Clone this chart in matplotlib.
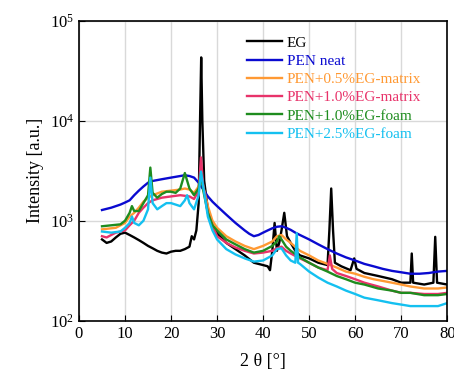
import numpy as np
import matplotlib
matplotlib.use('Agg')
import matplotlib.pyplot as plt

plt.rcParams['font.family'] = ['Liberation Serif', 'DejaVu Serif']
plt.rcParams['mathtext.fontset'] = 'stix'

# values (2theta in degrees, intensity in a.u.)
eg_x = [5, 6, 7, 8, 9, 10, 11, 12, 13, 14, 15, 16, 17, 18, 19, 20, 21, 22, 23, 24, 24.5, 25, 25.5,
        26, 26.3, 26.55, 26.8, 27.2, 28, 29, 30, 32, 34, 36, 38, 40, 41, 41.5, 42, 42.5, 43, 43.5,
        44, 44.6, 45.2, 46, 47, 48, 50, 52, 54, 54.4, 54.8, 55.2, 55.6, 57, 59, 59.8, 60.3, 62, 65,
        68, 70, 72, 72.3, 72.6, 75, 77, 77.4, 77.8, 80]
eg_y = [650, 600, 620, 680, 740, 760, 720, 680, 640, 600, 560, 530, 500, 480, 470, 490, 500, 500,
        520, 550, 700, 650, 800, 1500, 10000, 43000, 10000, 2500, 1300, 900, 750, 600, 520, 450,
        380, 360, 350, 320, 500, 950, 500, 600, 800, 1200, 700, 600, 500, 450, 420, 380, 360, 800,
        2100, 800, 380, 350, 320, 420, 330, 300, 280, 260, 240, 240, 470, 240, 230, 240, 690, 240, 230]

pen_x = [5, 7, 9, 10, 11, 12, 13, 14, 15, 16, 18, 20, 22, 23, 24, 25, 26, 27, 28, 29, 30, 32, 34,
         36, 37, 38, 39, 40, 41, 42, 43, 44, 45, 46, 47, 48, 50, 52, 54, 56, 58, 60, 62, 64, 66,
         68, 70, 72, 74, 76, 78, 80]
pen_y = [1280, 1350, 1450, 1520, 1600, 1800, 2000, 2200, 2400, 2500, 2600, 2700, 2800, 2850, 2800,
         2700, 2400, 2050, 1750, 1550, 1400, 1150, 950, 800, 740, 700, 720, 760, 800, 840, 870, 880,
         850, 810, 760, 720, 650, 580, 520, 470, 430, 400, 370, 350, 330, 315, 305, 295, 295, 300,
         310, 315]

m05_x = [5, 8, 10, 11, 12, 13, 14, 15, 16, 18, 20, 22, 23, 24, 25, 26, 26.5, 27, 28, 29, 30, 32,
         34, 36, 38, 40, 42, 43, 44, 45, 46, 48, 50, 52, 54, 56, 58, 60, 62, 64, 66, 68, 70, 72,
         75, 78, 80]
m05_y = [820, 850, 950, 1100, 1200, 1350, 1550, 1700, 1800, 1950, 2000, 2050, 2100, 2050, 1900,
         2200, 3000, 2200, 1400, 1000, 850, 700, 620, 560, 520, 560, 620, 700, 720, 650, 600, 500,
         450, 400, 370, 340, 310, 295, 275, 260, 250, 240, 230, 220, 210, 210, 215]

m10_x = [5, 6, 7, 8, 10, 11, 12, 13, 14, 15, 16, 18, 20, 22, 24, 25, 26, 26.5, 27, 28, 29, 30, 32,
         34, 36, 38, 40, 42, 43, 44, 45, 46, 48, 50, 52, 54, 54.5, 55, 56, 58, 60, 62, 65, 68, 70,
         72, 75, 78, 80]
m10_y = [700, 680, 720, 760, 800, 900, 1000, 1200, 1350, 1500, 1600, 1700, 1750, 1800, 1750, 1650,
         2000, 4300, 2200, 1200, 900, 700, 600, 540, 500, 470, 480, 500, 530, 550, 500, 470, 420,
         380, 340, 320, 450, 330, 300, 280, 260, 240, 220, 200, 190, 190, 185, 185, 190]

f10_x = [5, 7, 9, 10, 11, 11.5, 12, 13, 14, 15, 15.5, 16, 17, 18, 19, 20, 21, 22, 23, 24, 25, 26,
         26.5, 27, 28, 29, 30, 32, 34, 36, 38, 40, 42, 43, 43.5, 44, 45, 46, 48, 50, 52, 54, 56,
         58, 60, 62, 65, 68, 70, 72, 75, 78, 80]
f10_y = [880, 900, 920, 1000, 1200, 1400, 1250, 1250, 1500, 1800, 3400, 1900, 1700, 1850, 1950,
         1950, 1900, 2100, 3000, 2100, 1800, 2100, 3000, 2000, 1200, 900, 800, 650, 580, 520, 480,
         500, 560, 620, 700, 650, 550, 500, 430, 380, 340, 310, 280, 260, 240, 230, 210, 200, 190,
         190, 180, 180, 185]

f25_x = [5, 7, 9, 10, 11, 11.5, 12, 13, 14, 15, 15.5, 16, 17, 18, 19, 20, 21, 22, 23, 23.5, 24,
         25, 26, 26.5, 27, 28, 29, 30, 32, 34, 36, 38, 40, 42, 43, 44, 45, 46, 47, 47.3, 47.6, 48,
         50, 52, 54, 56, 58, 60, 62, 65, 68, 70, 72, 75, 78, 80]
f25_y = [780, 760, 780, 850, 950, 1100, 950, 900, 1000, 1300, 2700, 1500, 1300, 1400, 1500, 1500,
         1450, 1400, 1600, 1800, 1500, 1300, 1800, 3100, 2200, 1100, 800, 650, 520, 460, 420, 390,
         400, 450, 520, 530, 450, 400, 380, 750, 380, 370, 310, 270, 240, 220, 200, 185, 170, 160,
         150, 145, 140, 140, 140, 150]

series = [
    (eg_x, eg_y, 'EG', 'black'),
    (pen_x, pen_y, 'PEN neat', '#0a0ad0'),
    (m05_x, m05_y, 'PEN+0.5%EG-matrix', '#ff9933'),
    (m10_x, m10_y, 'PEN+1.0%EG-matrix', '#e8336a'),
    (f10_x, f10_y, 'PEN+1.0%EG-foam', '#1e8c1e'),
    (f25_x, f25_y, 'PEN+2.5%EG-foam', '#14c0f0'),
]

fig = plt.figure(figsize=(4.54, 3.74), dpi=100)
ax = fig.add_axes([0.174, 0.1425, 0.811, 0.802])

for x, y, lab, c in series:
    ax.plot(x, y, color=c, lw=1.7, label=lab)

ax.set_yscale('log')
ax.set_xlim(0, 80)
ax.set_ylim(1e2, 1e5)
ax.set_xticks(np.arange(0, 81, 10))
ax.set_yticks([1e2, 1e3, 1e4, 1e5])
ax.minorticks_off()
ax.grid(True, color='#d9d9d9', lw=1)
ax.set_axisbelow(True)
ax.tick_params(direction='in', labelsize=12, length=4)
for s in ax.spines.values():
    s.set_linewidth(1.2)

ax.set_xlabel('2 θ [°]', fontsize=13, labelpad=8)
ax.set_ylabel('Intensity [a.u.]', fontsize=13)

leg = ax.legend(loc='upper left', bbox_to_anchor=(0.436, 0.975), frameon=False, fontsize=11,
                handlelength=2.3, handletextpad=0.3, labelspacing=0.3, borderpad=0)
for t, (_, _, _, c) in zip(leg.get_texts(), series):
    t.set_color(c)

fig.savefig('out.png', dpi=100)
